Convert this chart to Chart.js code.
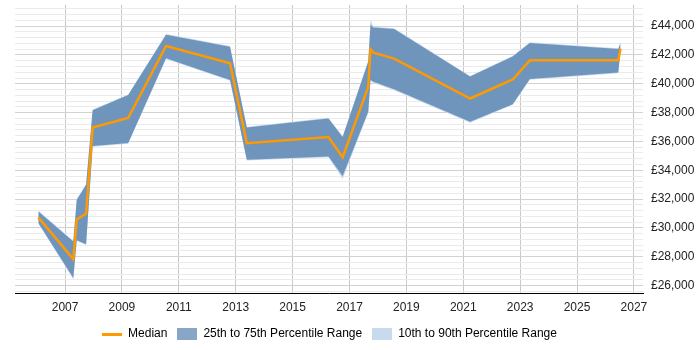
<!DOCTYPE html>
<html>
<head>
<meta charset="utf-8">
<script src="https://cdn.jsdelivr.net/npm/chart.js@4"></script>
<style>
    html, body { margin: 0; padding: 0; background: #fff; }
    #wrap { width: 700px; height: 350px; }
</style>
</head>
<body>
<div id="wrap"><canvas id="salaryChart"></canvas></div>
<script>
// dates as decimal years
const dates = [2006.06, 2007.29, 2007.41, 2007.74, 2007.97, 2009.22, 2010.55, 2012.80, 2013.39, 2016.26,
    2016.76, 2017.66, 2017.74, 2017.84, 2018.57, 2021.24, 2022.74, 2023.34, 2026.45, 2026.53];
const median = [30730, 27830, 30580, 31000, 36970, 37630, 42630, 41420, 35880, 36300,
    34900, 39790, 42400, 42160, 41750, 38980, 40300, 41630, 41630, 42440];
const p75 = [31130, 29050, 31940, 32990, 38170, 39220, 43410, 42570, 36970, 37590,
    36310, 41540, 44110, 43900, 43800, 40500, 41890, 42830, 42410, 42830];
const p25 = [30340, 26520, 29150, 28870, 35680, 35890, 41780, 40270, 34730, 34960,
    33600, 38060, 40270, 40150, 39620, 37360, 38590, 40340, 40780, 42300];
const p90 = [31200, 29100, 32000, 33050, 38220, 39260, 43450, 42620, 37020, 37640,
    36360, 41600, 44460, 43960, 43850, 40550, 41940, 42880, 42460, 42880];
const p10 = [30300, 26440, 29100, 28820, 35630, 35840, 41730, 40220, 34680, 34910,
    33400, 38000, 40200, 40080, 39550, 37300, 38540, 40290, 40730, 42250];

const yearTicks = [2007, 2009, 2011, 2013, 2015, 2017, 2019, 2021, 2023, 2025, 2027];

const orange = '#ff9900';
const bandDark = 'rgb(111,149,189)';
const bandLight = 'rgb(200,218,238)';
const swatchDark = 'rgb(136,166,200)';

function pts(values) {
    return dates.map((d, i) => ({ x: d, y: values[i] }));
}

// little canvases used as legend markers
function marker(w, h, color) {
    const c = document.createElement('canvas');
    c.width = w;
    c.height = h;
    const g = c.getContext('2d');
    g.fillStyle = color;
    g.fillRect(0, 0, w, h);
    return c;
}
const legendMarks = [marker(20, 3, orange), marker(20, 12, swatchDark), marker(20, 12, bandLight)];
const legendTexts = ['Median', '25th to 75th Percentile Range', '10th to 90th Percentile Range'];

// minor grid every 400, labels every 2000
const gridValues = [];
for (let v = 25600; v <= 45200; v += 400) gridValues.push(v);

const fontFamily = "'Liberation Sans', Arial, sans-serif";

// legend sits centred under the plot area, not the whole canvas
const legendShift = {
    id: 'legendShift',
    afterLayout(chart) {
        chart.legend.left -= 28;
        chart.legend.right -= 28;
    }
};

const ctx = document.getElementById('salaryChart').getContext('2d');
new Chart(ctx, {
    type: 'line',
    data: {
        datasets: [
            { label: 'Median', data: pts(median), borderColor: orange, borderWidth: 2.5, pointRadius: 0, fill: false, tension: 0 },
            { label: '75th', data: pts(p75), borderWidth: 0, pointRadius: 0, fill: 2, backgroundColor: bandDark },
            { label: '25th', data: pts(p25), borderWidth: 0, pointRadius: 0, fill: false },
            { label: '90th', data: pts(p90), borderWidth: 0, pointRadius: 0, fill: 4, backgroundColor: bandLight },
            { label: '10th', data: pts(p10), borderWidth: 0, pointRadius: 0, fill: false }
        ]
    },
    plugins: [legendShift],
    options: {
        responsive: true,
        maintainAspectRatio: false,
        animation: false,
        layout: { padding: { left: 15, right: 0, top: 5, bottom: 0 } },
        scales: {
            x: {
                type: 'linear',
                min: 2005.24,
                max: 2027.32,
                afterBuildTicks: axis => { axis.ticks = yearTicks.map(v => ({ value: v })); },
                afterFit: axis => { axis.paddingLeft = 0; axis.paddingRight = 0; axis.height -= 4; },
                grid: { color: '#c8c8c8', drawTicks: false },
                border: { color: '#000', width: 1 },
                ticks: {
                    padding: 7,
                    autoSkip: false,
                    maxRotation: 0,
                    color: '#222',
                    font: { size: 12, family: fontFamily },
                    callback: v => String(v)
                }
            },
            y: {
                position: 'right',
                min: 25440,
                max: 45470,
                afterBuildTicks: axis => { axis.ticks = gridValues.map(v => ({ value: v })); },
                afterFit: axis => { axis.width = 57; axis.paddingTop = 0; axis.paddingBottom = 0; },
                grid: {
                    drawTicks: false,
                    color: c => (c.tick && c.tick.value % 2000 === 0) ? '#d2d2d2' : '#ebebeb'
                },
                border: { display: false },
                ticks: {
                    padding: 8,
                    autoSkip: false,
                    color: '#222',
                    font: { size: 12, family: fontFamily },
                    callback: v => (v % 2000 === 0) ? '£' + v.toLocaleString('en-GB') : ''
                }
            }
        },
        plugins: {
            legend: {
                position: 'bottom',
                labels: {
                    usePointStyle: true,
                    pointStyleWidth: 20,
                    boxHeight: 12,
                    padding: 10,
                    color: '#222',
                    font: { size: 12, family: fontFamily },
                    generateLabels: () => legendTexts.map((t, i) => ({
                        text: t,
                        pointStyle: legendMarks[i],
                        fillStyle: 'transparent',
                        strokeStyle: 'transparent',
                        lineWidth: 0,
                        hidden: false,
                        datasetIndex: i
                    }))
                },
                onClick: null
            },
            tooltip: { enabled: false }
        }
    }
});
</script>
</body>
</html>
